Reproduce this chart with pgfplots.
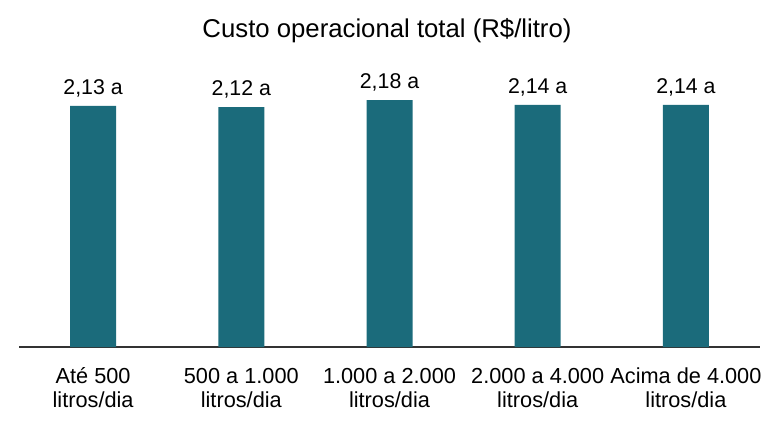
\documentclass[border=0pt]{standalone}
\usepackage{pgfplots}
\pgfplotsset{compat=1.18}
\usepackage{fontspec}
\setmainfont{Liberation Sans}
\definecolor{barteal}{HTML}{1B6B7B}
\newcommand\vs{\vphantom{Até}}
\begin{document}
\begin{tikzpicture}
\begin{axis}[
  name=ax,
  scale only axis,
  width=555.75pt,
  height=212.25pt,
  ymin=0, ymax=2.5,
  xmin=-0.5, xmax=4.5,
  axis x line=bottom,
  axis y line=none,
  axis line style={black!80, line width=0.9pt, -},
  xtick=data,
  xticklabels={{Até 500\\litros/dia},{\vs 500 a 1.000\\litros/dia},{\vs 1.000 a 2.000\\litros/dia},{\vs 2.000 a 4.000\\litros/dia},{\vs Acima de 4.000\\litros/dia}},
  xticklabel style={align=center, font=\fontsize{16.3}{17.5}\selectfont, yshift=-12pt},
  major tick length=0pt,
  ybar,
  bar width=34.5pt,
  point meta=explicit symbolic,
  nodes near coords,
  every node near coord/.append style={font=\fontsize{16}{18}\selectfont, black, yshift=3pt},
  clip=false,
]
\addplot[fill=barteal, draw=none] coordinates {
  (0,2.13) [{2,13 a}]
  (1,2.12) [{2,12 a}]
  (2,2.18) [{2,18 a}]
  (3,2.14) [{2,14 a}]
  (4,2.14) [{2,14 a}]
};
\end{axis}
\node[font=\fontsize{19.3}{22}\selectfont, anchor=base] at ([xshift=276pt, yshift=232pt]ax.south west) {Custo operacional total (R\$/litro)};
\path[use as bounding box] ([xshift=-14.25pt, yshift=-55.5pt]ax.south west) rectangle ([xshift=570.75pt, yshift=260.25pt]ax.south west);
\end{tikzpicture}
\end{document}
